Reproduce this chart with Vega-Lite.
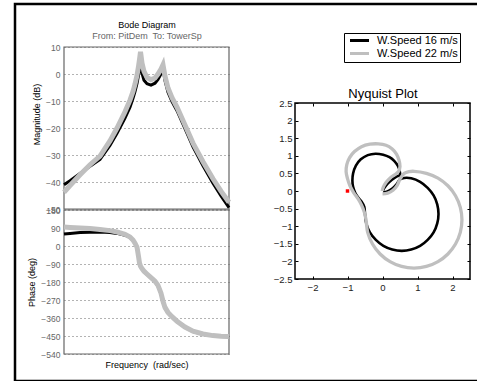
{
  "$schema": "https://vega.github.io/schema/vega-lite/v6.json",
  "width": 480,
  "height": 377,
  "autosize": "none",
  "padding": {"left": 15, "top": 4, "right": 0, "bottom": 0},
  "background": "white",
  "config": {
    "font": "Liberation Sans",
    "view": {"stroke": "black", "strokeWidth": 2.5},
    "axis": {"labelFont": "Liberation Sans", "titleFont": "Liberation Sans", "titleFontWeight": "normal", "labelOverlap": false, "labelFlush": false},
    "legend": {"orient": "none", "legendX": 329, "legendY": 29, "title": null, "symbolType": "M-2.714,0L2.714,0", "symbolSize": 49, "symbolStrokeWidth": 3, "labelFontSize": 11, "labelFont": "Liberation Sans", "labelColor": "#000000", "strokeColor": "#000000", "fillColor": "#ffffff", "padding": 2, "rowPadding": 0, "symbolOffset": 8, "labelOffset": 12}
  },
  "title": {
    "text": "Bode Diagram",
    "subtitle": "From: PitDem\u00a0 To: TowerSp",
    "anchor": "start",
    "frame": "group",
    "align": "center",
    "dx": 132,
    "offset": -37,
    "font": "Liberation Sans",
    "subtitleFont": "Liberation Sans",
    "fontSize": 9,
    "fontWeight": "normal",
    "color": "#000000",
    "subtitleFontSize": 9,
    "subtitleColor": "#666666",
    "subtitlePadding": 2.5
  },
  "datasets": {
    "bode": [
      {"f": 0.01, "s": "W.Speed 16 m/s", "mag": -41, "ph": 60},
      {"f": 0.014, "s": "W.Speed 16 m/s", "mag": -39.5, "ph": 63},
      {"f": 0.0245, "s": "W.Speed 16 m/s", "mag": -36.8, "ph": 67},
      {"f": 0.0427, "s": "W.Speed 16 m/s", "mag": -34.2, "ph": 69},
      {"f": 0.0746, "s": "W.Speed 16 m/s", "mag": -31.6, "ph": 70},
      {"f": 0.13, "s": "W.Speed 16 m/s", "mag": -26.5, "ph": 68},
      {"f": 0.193, "s": "W.Speed 16 m/s", "mag": -22, "ph": 63},
      {"f": 0.301, "s": "W.Speed 16 m/s", "mag": -16.3, "ph": 54},
      {"f": 0.398, "s": "W.Speed 16 m/s", "mag": -12.3, "ph": 43},
      {"f": 0.471, "s": "W.Speed 16 m/s", "mag": -9, "ph": 28},
      {"f": 0.526, "s": "W.Speed 16 m/s", "mag": -6.5, "ph": 12},
      {"f": 0.589, "s": "W.Speed 16 m/s", "mag": -3.5, "ph": -8},
      {"f": 0.64, "s": "W.Speed 16 m/s", "mag": -0.5, "ph": -55},
      {"f": 0.676, "s": "W.Speed 16 m/s", "mag": 1.8, "ph": -88},
      {"f": 0.716, "s": "W.Speed 16 m/s", "mag": 4.3, "ph": -103},
      {"f": 0.778, "s": "W.Speed 16 m/s", "mag": 0.3, "ph": -115},
      {"f": 0.869, "s": "W.Speed 16 m/s", "mag": -2.3, "ph": -128},
      {"f": 1.028, "s": "W.Speed 16 m/s", "mag": -3.6, "ph": -142},
      {"f": 1.285, "s": "W.Speed 16 m/s", "mag": -4.1, "ph": -160},
      {"f": 1.607, "s": "W.Speed 16 m/s", "mag": -3.4, "ph": -178},
      {"f": 1.901, "s": "W.Speed 16 m/s", "mag": -2, "ph": -200},
      {"f": 2.248, "s": "W.Speed 16 m/s", "mag": 0, "ph": -240},
      {"f": 2.512, "s": "W.Speed 16 m/s", "mag": 2.2, "ph": -280},
      {"f": 2.807, "s": "W.Speed 16 m/s", "mag": -2.5, "ph": -310},
      {"f": 3.319, "s": "W.Speed 16 m/s", "mag": -6.8, "ph": -334},
      {"f": 4.15, "s": "W.Speed 16 m/s", "mag": -10.2, "ph": -355},
      {"f": 5.49, "s": "W.Speed 16 m/s", "mag": -13.6, "ph": -378},
      {"f": 8.57, "s": "W.Speed 16 m/s", "mag": -20.2, "ph": -407},
      {"f": 13.4, "s": "W.Speed 16 m/s", "mag": -27, "ph": -428},
      {"f": 23.44, "s": "W.Speed 16 m/s", "mag": -34, "ph": -441},
      {"f": 40.93, "s": "W.Speed 16 m/s", "mag": -40.5, "ph": -449},
      {"f": 63.97, "s": "W.Speed 16 m/s", "mag": -45.2, "ph": -452},
      {"f": 100, "s": "W.Speed 16 m/s", "mag": -49.5, "ph": -454},
      {"f": 0.01, "s": "W.Speed 22 m/s", "mag": -43.8, "ph": 95},
      {"f": 0.014, "s": "W.Speed 22 m/s", "mag": -41.3, "ph": 93},
      {"f": 0.0245, "s": "W.Speed 22 m/s", "mag": -37.3, "ph": 90},
      {"f": 0.0427, "s": "W.Speed 22 m/s", "mag": -33.6, "ph": 87},
      {"f": 0.0746, "s": "W.Speed 22 m/s", "mag": -30.4, "ph": 83},
      {"f": 0.13, "s": "W.Speed 22 m/s", "mag": -24.8, "ph": 77},
      {"f": 0.193, "s": "W.Speed 22 m/s", "mag": -20, "ph": 70},
      {"f": 0.301, "s": "W.Speed 22 m/s", "mag": -14, "ph": 58},
      {"f": 0.398, "s": "W.Speed 22 m/s", "mag": -9.7, "ph": 45},
      {"f": 0.471, "s": "W.Speed 22 m/s", "mag": -6.5, "ph": 30},
      {"f": 0.526, "s": "W.Speed 22 m/s", "mag": -3.8, "ph": 14},
      {"f": 0.589, "s": "W.Speed 22 m/s", "mag": -0.5, "ph": -6},
      {"f": 0.64, "s": "W.Speed 22 m/s", "mag": 2.8, "ph": -52},
      {"f": 0.676, "s": "W.Speed 22 m/s", "mag": 5.3, "ph": -85},
      {"f": 0.716, "s": "W.Speed 22 m/s", "mag": 8.2, "ph": -101},
      {"f": 0.778, "s": "W.Speed 22 m/s", "mag": 4, "ph": -113},
      {"f": 0.869, "s": "W.Speed 22 m/s", "mag": 1, "ph": -126},
      {"f": 1.028, "s": "W.Speed 22 m/s", "mag": -1.3, "ph": -140},
      {"f": 1.285, "s": "W.Speed 22 m/s", "mag": -2.1, "ph": -158},
      {"f": 1.607, "s": "W.Speed 22 m/s", "mag": -1.5, "ph": -176},
      {"f": 1.901, "s": "W.Speed 22 m/s", "mag": 0, "ph": -197},
      {"f": 2.248, "s": "W.Speed 22 m/s", "mag": 1.8, "ph": -236},
      {"f": 2.512, "s": "W.Speed 22 m/s", "mag": 3.4, "ph": -276},
      {"f": 2.807, "s": "W.Speed 22 m/s", "mag": -0.8, "ph": -307},
      {"f": 3.319, "s": "W.Speed 22 m/s", "mag": -5.2, "ph": -332},
      {"f": 4.15, "s": "W.Speed 22 m/s", "mag": -8.8, "ph": -353},
      {"f": 5.49, "s": "W.Speed 22 m/s", "mag": -12.3, "ph": -376},
      {"f": 8.57, "s": "W.Speed 22 m/s", "mag": -18.9, "ph": -405},
      {"f": 13.4, "s": "W.Speed 22 m/s", "mag": -25.6, "ph": -426},
      {"f": 23.44, "s": "W.Speed 22 m/s", "mag": -32.5, "ph": -440},
      {"f": 40.93, "s": "W.Speed 22 m/s", "mag": -38.8, "ph": -448},
      {"f": 63.97, "s": "W.Speed 22 m/s", "mag": -43.4, "ph": -451},
      {"f": 100, "s": "W.Speed 22 m/s", "mag": -47.5, "ph": -453}
    ],
    "nyq": [
      {"t": 1, "s": "W.Speed 16 m/s", "re": 0.02, "im": -0.04},
      {"t": 2, "s": "W.Speed 16 m/s", "re": 0.14, "im": -0.01},
      {"t": 3, "s": "W.Speed 16 m/s", "re": 0.28, "im": 0.07},
      {"t": 4, "s": "W.Speed 16 m/s", "re": 0.4, "im": 0.19},
      {"t": 5, "s": "W.Speed 16 m/s", "re": 0.5, "im": 0.33},
      {"t": 6, "s": "W.Speed 16 m/s", "re": 0.62, "im": 0.37},
      {"t": 7, "s": "W.Speed 16 m/s", "re": 0.82, "im": 0.36},
      {"t": 8, "s": "W.Speed 16 m/s", "re": 1.075, "im": 0.26},
      {"t": 9, "s": "W.Speed 16 m/s", "re": 1.29, "im": 0.09},
      {"t": 10, "s": "W.Speed 16 m/s", "re": 1.46, "im": -0.125},
      {"t": 11, "s": "W.Speed 16 m/s", "re": 1.564, "im": -0.378},
      {"t": 12, "s": "W.Speed 16 m/s", "re": 1.6, "im": -0.65},
      {"t": 13, "s": "W.Speed 16 m/s", "re": 1.564, "im": -0.92},
      {"t": 14, "s": "W.Speed 16 m/s", "re": 1.46, "im": -1.175},
      {"t": 15, "s": "W.Speed 16 m/s", "re": 1.29, "im": -1.39},
      {"t": 16, "s": "W.Speed 16 m/s", "re": 1.075, "im": -1.56},
      {"t": 17, "s": "W.Speed 16 m/s", "re": 0.82, "im": -1.664},
      {"t": 18, "s": "W.Speed 16 m/s", "re": 0.55, "im": -1.7},
      {"t": 19, "s": "W.Speed 16 m/s", "re": 0.28, "im": -1.664},
      {"t": 20, "s": "W.Speed 16 m/s", "re": 0.025, "im": -1.56},
      {"t": 21, "s": "W.Speed 16 m/s", "re": -0.19, "im": -1.39},
      {"t": 22, "s": "W.Speed 16 m/s", "re": -0.36, "im": -1.175},
      {"t": 23, "s": "W.Speed 16 m/s", "re": -0.464, "im": -0.92},
      {"t": 24, "s": "W.Speed 16 m/s", "re": -0.5, "im": -0.65},
      {"t": 25, "s": "W.Speed 16 m/s", "re": -0.52, "im": -0.45},
      {"t": 26, "s": "W.Speed 16 m/s", "re": -0.6, "im": -0.3},
      {"t": 27, "s": "W.Speed 16 m/s", "re": -0.7, "im": -0.18},
      {"t": 28, "s": "W.Speed 16 m/s", "re": -0.78, "im": -0.05},
      {"t": 29, "s": "W.Speed 16 m/s", "re": -0.84, "im": 0.12},
      {"t": 30, "s": "W.Speed 16 m/s", "re": -0.86, "im": 0.3},
      {"t": 31, "s": "W.Speed 16 m/s", "re": -0.84, "im": 0.5},
      {"t": 32, "s": "W.Speed 16 m/s", "re": -0.76, "im": 0.72},
      {"t": 33, "s": "W.Speed 16 m/s", "re": -0.62, "im": 0.9},
      {"t": 34, "s": "W.Speed 16 m/s", "re": -0.42, "im": 1.02},
      {"t": 35, "s": "W.Speed 16 m/s", "re": -0.2, "im": 1.06},
      {"t": 36, "s": "W.Speed 16 m/s", "re": 0.02, "im": 1.03},
      {"t": 37, "s": "W.Speed 16 m/s", "re": 0.2, "im": 0.96},
      {"t": 38, "s": "W.Speed 16 m/s", "re": 0.34, "im": 0.85},
      {"t": 39, "s": "W.Speed 16 m/s", "re": 0.44, "im": 0.71},
      {"t": 40, "s": "W.Speed 16 m/s", "re": 0.49, "im": 0.57},
      {"t": 41, "s": "W.Speed 16 m/s", "re": 0.5, "im": 0.46},
      {"t": 42, "s": "W.Speed 16 m/s", "re": 0.4, "im": 0.41},
      {"t": 43, "s": "W.Speed 16 m/s", "re": 0.27, "im": 0.32},
      {"t": 44, "s": "W.Speed 16 m/s", "re": 0.14, "im": 0.2},
      {"t": 45, "s": "W.Speed 16 m/s", "re": 0.05, "im": 0.08},
      {"t": 46, "s": "W.Speed 16 m/s", "re": 0.01, "im": 0.0},
      {"t": 1, "s": "W.Speed 22 m/s", "re": 0.0, "im": -0.08},
      {"t": 2, "s": "W.Speed 22 m/s", "re": 0.15, "im": -0.06},
      {"t": 3, "s": "W.Speed 22 m/s", "re": 0.3, "im": 0.02},
      {"t": 4, "s": "W.Speed 22 m/s", "re": 0.42, "im": 0.16},
      {"t": 5, "s": "W.Speed 22 m/s", "re": 0.5, "im": 0.34},
      {"t": 6, "s": "W.Speed 22 m/s", "re": 0.62, "im": 0.5},
      {"t": 7, "s": "W.Speed 22 m/s", "re": 0.76, "im": 0.55},
      {"t": 8, "s": "W.Speed 22 m/s", "re": 0.9, "im": 0.56},
      {"t": 9, "s": "W.Speed 22 m/s", "re": 1.255, "im": 0.503},
      {"t": 10, "s": "W.Speed 22 m/s", "re": 1.585, "im": 0.366},
      {"t": 11, "s": "W.Speed 22 m/s", "re": 1.869, "im": 0.149},
      {"t": 12, "s": "W.Speed 22 m/s", "re": 2.086, "im": -0.135},
      {"t": 13, "s": "W.Speed 22 m/s", "re": 2.223, "im": -0.465},
      {"t": 14, "s": "W.Speed 22 m/s", "re": 2.27, "im": -0.82},
      {"t": 15, "s": "W.Speed 22 m/s", "re": 2.223, "im": -1.175},
      {"t": 16, "s": "W.Speed 22 m/s", "re": 2.086, "im": -1.505},
      {"t": 17, "s": "W.Speed 22 m/s", "re": 1.869, "im": -1.789},
      {"t": 18, "s": "W.Speed 22 m/s", "re": 1.585, "im": -2.006},
      {"t": 19, "s": "W.Speed 22 m/s", "re": 1.255, "im": -2.143},
      {"t": 20, "s": "W.Speed 22 m/s", "re": 0.9, "im": -2.19},
      {"t": 21, "s": "W.Speed 22 m/s", "re": 0.545, "im": -2.143},
      {"t": 22, "s": "W.Speed 22 m/s", "re": 0.215, "im": -2.006},
      {"t": 23, "s": "W.Speed 22 m/s", "re": -0.069, "im": -1.789},
      {"t": 24, "s": "W.Speed 22 m/s", "re": -0.286, "im": -1.505},
      {"t": 25, "s": "W.Speed 22 m/s", "re": -0.423, "im": -1.175},
      {"t": 26, "s": "W.Speed 22 m/s", "re": -0.47, "im": -0.82},
      {"t": 27, "s": "W.Speed 22 m/s", "re": -0.52, "im": -0.6},
      {"t": 28, "s": "W.Speed 22 m/s", "re": -0.6, "im": -0.4},
      {"t": 29, "s": "W.Speed 22 m/s", "re": -0.7, "im": -0.22},
      {"t": 30, "s": "W.Speed 22 m/s", "re": -0.82, "im": -0.05},
      {"t": 31, "s": "W.Speed 22 m/s", "re": -0.93, "im": 0.15},
      {"t": 32, "s": "W.Speed 22 m/s", "re": -1.0, "im": 0.35},
      {"t": 33, "s": "W.Speed 22 m/s", "re": -1.04, "im": 0.55},
      {"t": 34, "s": "W.Speed 22 m/s", "re": -1.02, "im": 0.75},
      {"t": 35, "s": "W.Speed 22 m/s", "re": -0.94, "im": 0.95},
      {"t": 36, "s": "W.Speed 22 m/s", "re": -0.8, "im": 1.12},
      {"t": 37, "s": "W.Speed 22 m/s", "re": -0.6, "im": 1.26},
      {"t": 38, "s": "W.Speed 22 m/s", "re": -0.36, "im": 1.33},
      {"t": 39, "s": "W.Speed 22 m/s", "re": -0.12, "im": 1.34},
      {"t": 40, "s": "W.Speed 22 m/s", "re": 0.1, "im": 1.3},
      {"t": 41, "s": "W.Speed 22 m/s", "re": 0.27, "im": 1.2},
      {"t": 42, "s": "W.Speed 22 m/s", "re": 0.4, "im": 1.05},
      {"t": 43, "s": "W.Speed 22 m/s", "re": 0.47, "im": 0.88},
      {"t": 44, "s": "W.Speed 22 m/s", "re": 0.5, "im": 0.7},
      {"t": 45, "s": "W.Speed 22 m/s", "re": 0.46, "im": 0.56},
      {"t": 46, "s": "W.Speed 22 m/s", "re": 0.36, "im": 0.47},
      {"t": 47, "s": "W.Speed 22 m/s", "re": 0.22, "im": 0.37},
      {"t": 48, "s": "W.Speed 22 m/s", "re": 0.1, "im": 0.24},
      {"t": 49, "s": "W.Speed 22 m/s", "re": 0.02, "im": 0.1},
      {"t": 50, "s": "W.Speed 22 m/s", "re": -0.01, "im": 0.0}
    ]
  },
  "layer": [
    {
      "data": {"values": [{"f1": 0.01, "f2": 100, "v1": -50, "v2": 10}]},
      "mark": {"type": "rect", "filled": false, "color": "#666666", "strokeWidth": 1.2},
      "encoding": {
        "x": {"field": "f1", "type": "quantitative", "scale": {"type": "log", "domain": [0.01, 100], "range": [49, 214], "nice": false}, "axis": null},
        "x2": {"field": "f2"},
        "y": {"field": "v1", "type": "quantitative", "scale": {"domain": [-50, 10], "range": [205, 43], "nice": false, "zero": false}, "axis": null},
        "y2": {"field": "v2"}
      }
    },
    {
      "data": {"name": "bode"},
      "mark": {"type": "line"},
      "encoding": {
        "x": {"field": "f", "type": "quantitative", "scale": {"type": "log", "domain": [0.01, 100], "range": [49, 214], "nice": false}, "axis": null},
        "y": {"field": "mag", "type": "quantitative", "scale": {"domain": [-50, 10], "range": [205, 43], "nice": false, "zero": false},
          "axis": {"orient": "left", "offset": -49, "values": [-50, -40, -30, -20, -10, 0, 10], "grid": true, "gridDash": [1, 3], "gridColor": "#666666", "domain": false, "ticks": false, "labelPadding": 4, "labelColor": "#666666", "labelFontSize": 8.5, "title": "Magnitude (dB)", "titleFontSize": 9, "titleColor": "#000000", "titlePadding": 4, "titleY": 110}},
        "color": {"field": "s", "type": "nominal", "scale": {"domain": ["W.Speed 16 m/s", "W.Speed 22 m/s"], "range": ["#000000", "#bfbfbf"]}},
        "strokeWidth": {"field": "s", "type": "nominal", "scale": {"domain": ["W.Speed 16 m/s", "W.Speed 22 m/s"], "range": [3, 5]}, "legend": null}
      }
    },
    {
      "data": {"values": [{"f1": 0.01, "f2": 100, "v1": -540, "v2": 180}]},
      "mark": {"type": "rect", "filled": false, "color": "#666666", "strokeWidth": 1.2},
      "encoding": {
        "x": {"field": "f1", "type": "quantitative", "scale": {"type": "log", "domain": [0.01, 100], "range": [49, 214], "nice": false}, "axis": null},
        "x2": {"field": "f2"},
        "y": {"field": "v1", "type": "quantitative", "scale": {"domain": [-540, 180], "range": [350, 206], "nice": false, "zero": false}, "axis": null},
        "y2": {"field": "v2"}
      }
    },
    {
      "data": {"name": "bode"},
      "mark": {"type": "line"},
      "encoding": {
        "x": {"field": "f", "type": "quantitative", "scale": {"type": "log", "domain": [0.01, 100], "range": [49, 214], "nice": false},
          "axis": {"orient": "bottom", "offset": -27, "labels": false, "ticks": false, "domain": false, "grid": false, "title": "Frequency\u00a0 (rad/sec)", "titleFontSize": 9, "titleColor": "#000000", "titlePadding": 6}},
        "y": {"field": "ph", "type": "quantitative", "scale": {"domain": [-540, 180], "range": [350, 206], "nice": false, "zero": false},
          "axis": {"orient": "left", "offset": -49, "values": [-540, -450, -360, -270, -180, -90, 0, 90, 180], "grid": true, "gridDash": [1, 3], "gridColor": "#666666", "domain": false, "ticks": false, "labelPadding": 4, "labelColor": "#666666", "labelFontSize": 8.5, "title": "Phase (deg)", "titleFontSize": 9, "titleColor": "#000000", "titlePadding": 4}},
        "color": {"field": "s", "type": "nominal", "scale": {"domain": ["W.Speed 16 m/s", "W.Speed 22 m/s"], "range": ["#000000", "#bfbfbf"]}},
        "strokeWidth": {"field": "s", "type": "nominal", "scale": {"domain": ["W.Speed 16 m/s", "W.Speed 22 m/s"], "range": [3, 5]}, "legend": null}
      }
    },
    {
      "data": {"values": [{"r1": -2.5, "r2": 2.5, "i1": -2.5, "i2": 2.5}]},
      "mark": {"type": "rect", "filled": false, "color": "#000000", "strokeWidth": 1.5},
      "encoding": {
        "x": {"field": "r1", "type": "quantitative", "scale": {"domain": [-2.5, 2.5], "range": [280, 455], "nice": false, "zero": false},
          "axis": {"orient": "top", "offset": -99, "values": [-2, -1, 0, 1, 2], "labels": false, "tickSize": -3, "tickColor": "#000000", "domain": false, "grid": false, "title": "Nyquist Plot", "titleFontSize": 13, "titleColor": "#000000", "titlePadding": 2}},
        "x2": {"field": "r2"},
        "y": {"field": "i1", "type": "quantitative", "scale": {"domain": [-2.5, 2.5], "range": [275, 99], "nice": false, "zero": false},
          "axis": {"orient": "right", "offset": -25, "values": [-2.5, -2, -1.5, -1, -0.5, 0, 0.5, 1, 1.5, 2, 2.5], "labels": false, "tickSize": -3, "tickColor": "#000000", "domain": false, "grid": false, "title": null}},
        "y2": {"field": "i2"}
      }
    },
    {
      "data": {"name": "nyq"},
      "mark": {"type": "line", "interpolate": "catmull-rom"},
      "encoding": {
        "x": {"field": "re", "type": "quantitative", "scale": {"domain": [-2.5, 2.5], "range": [280, 455], "nice": false, "zero": false},
          "axis": {"orient": "bottom", "offset": -102, "values": [-2, -1, 0, 1, 2], "format": "d", "tickSize": -3, "tickColor": "#000000", "labelPadding": 6, "labelColor": "#222222", "labelFontSize": 9.5, "domain": false, "grid": false, "title": null}},
        "y": {"field": "im", "type": "quantitative", "scale": {"domain": [-2.5, 2.5], "range": [275, 99], "nice": false, "zero": false},
          "axis": {"orient": "left", "offset": -280, "values": [-2.5, -2, -1.5, -1, -0.5, 0, 0.5, 1, 1.5, 2, 2.5], "format": "~g", "tickSize": -3, "tickColor": "#000000", "labelPadding": 6, "labelColor": "#222222", "labelFontSize": 9.5, "domain": false, "grid": false, "title": null}},
        "order": {"field": "t", "type": "quantitative"},
        "color": {"field": "s", "type": "nominal", "scale": {"domain": ["W.Speed 16 m/s", "W.Speed 22 m/s"], "range": ["#000000", "#bfbfbf"]}},
        "strokeWidth": {"field": "s", "type": "nominal", "scale": {"domain": ["W.Speed 16 m/s", "W.Speed 22 m/s"], "range": [2.6, 3.3]}, "legend": null}
      }
    },
    {
      "data": {"values": [{"re": -1, "im": 0}]},
      "mark": {"type": "point", "shape": "square", "filled": true, "color": "#ff0000", "size": 12, "opacity": 1},
      "encoding": {
        "x": {"field": "re", "type": "quantitative", "scale": {"domain": [-2.5, 2.5], "range": [280, 455], "nice": false, "zero": false}, "axis": null},
        "y": {"field": "im", "type": "quantitative", "scale": {"domain": [-2.5, 2.5], "range": [275, 99], "nice": false, "zero": false}, "axis": null}
      }
    }
  ],
  "resolve": {"scale": {"x": "independent", "y": "independent", "strokeWidth": "independent"}}
}
